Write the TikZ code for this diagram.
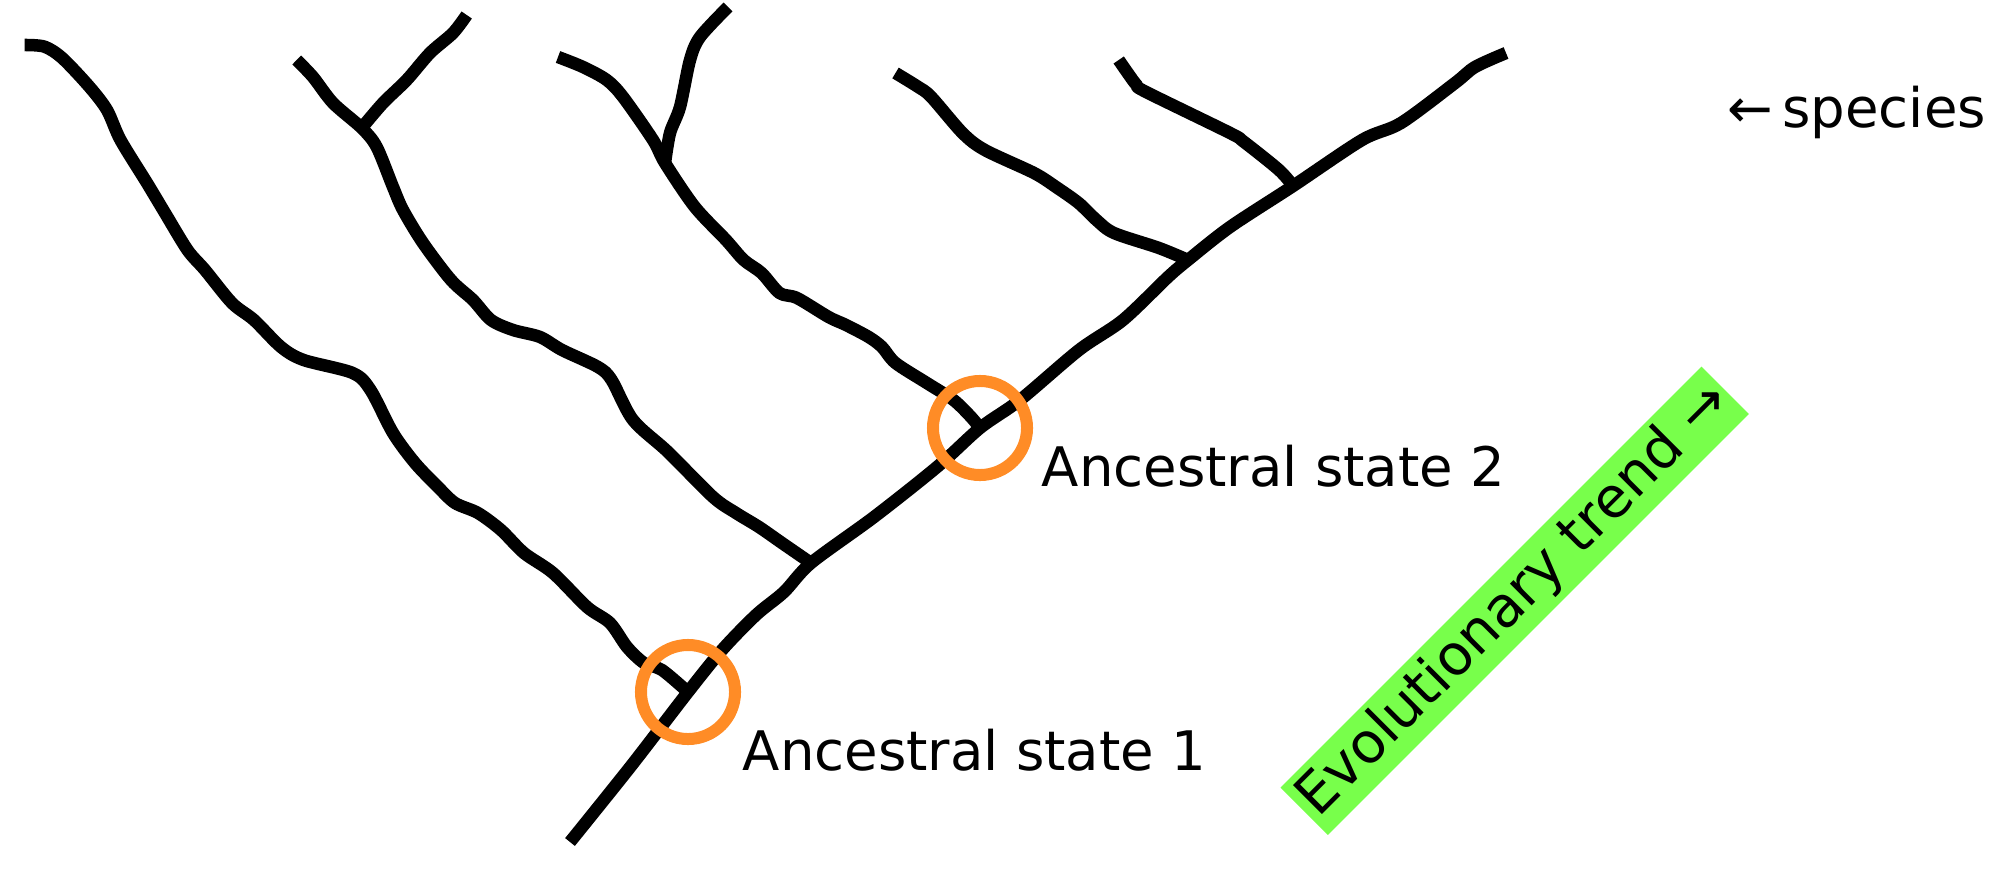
\documentclass[tikz,border=0pt]{standalone}
\usepackage{fontspec}
\setmainfont{DejaVu Sans}
\usetikzlibrary{positioning}
\definecolor{ringorange}{RGB}{255,140,38}
\definecolor{trendgreen}{RGB}{120,255,75}
\tikzset{
    branch/.style={line width=0.125cm, line join=round}, % the black lines of the tree
    ancestor/.style={circle, draw=ringorange, line width=0.12cm, minimum size=0.94cm, inner sep=0pt}, % orange rings
    statelabel/.style={anchor=base west, inner sep=0pt, font=\fontsize{15.5}{18}\selectfont},
    trend/.style={fill=trendgreen, rotate=45, minimum width=5.95cm, minimum height=0.67cm, inner sep=0pt, font=\fontsize{16}{18}\selectfont},
}

\begin{document}
\begin{tikzpicture}[x=0.01cm, y=-0.01cm]
    \useasboundingbox (0,0) rectangle (2016,876);
    % junctions and tips
    \coordinate (root) at (570,842);
    \coordinate (j1) at (688,692);
    \coordinate (jB) at (811,563);
    \coordinate (j2) at (980,428);
    \coordinate (jD) at (1188,260);
    \coordinate (jE) at (1293,186);
    \coordinate (top) at (1506,53);
    \coordinate (jB2) at (361.7,128);
    \coordinate (jC2) at (665,163);
    \coordinate (tA) at (24.6,45);
    \coordinate (tB) at (296.7,60);
    \coordinate (tB2) at (466.7,15);
    \coordinate (tC) at (558,57);
    \coordinate (tC2) at (728,7);
    \coordinate (tD) at (895.5,73);
    \coordinate (tE) at (1118.7,60);
    % trunk
    \draw[branch] plot[smooth] coordinates {(root) (631,766) (j1) (722,650) (756,615) (784,592) (jB) (874,517) (937,467) (j2) (1020,400) (1079,350) (1123,320) (1168,277) (jD) (1230,227) (jE) (1362,140) (1401,123) (1455,83) (1475,67) (top)};
    % branches
    \draw[branch] plot[smooth] coordinates {(tA) (44.6,46.7) (62.5,58.3) (89.3,86.7) (107,110) (120.5,140) (147,183) (165,213) (187.5,250) (205,270) (232,303) (254,320) (281,347) (303.6,360) (352.7,373) (370.5,390) (393,433) (415,463) (438,487) (455,503) (478,513) (501,530) (524,553) (553,573) (587,607) (610,623) (627,647) (644,663) (662,670) (j1)};
    \draw[branch] plot[smooth] coordinates {(tB) (313,77) (333,103) (jB2) (376.7,147) (393,187) (403,210) (423,243) (451,280) (473,300) (491,320) (513,330) (540,337) (562,350) (598,367) (611.6,380) (633,420) (668,452) (713,497) (736,513) (759,527) (782,543) (jB)};
    \draw[branch] plot[smooth] coordinates {(jB2) (383,103) (406.7,80) (430,53) (453,33) (tB2)};
    \draw[branch] plot[smooth] coordinates {(tC) (583,67) (606.7,80) (623,97) (653,140) (jC2) (694.6,206.7) (726,240) (743.7,260) (761.6,273) (779.5,293) (797,298) (828.6,317) (846,325) (868.7,337) (882,347) (895.5,363) (926.8,383) (953.5,400) (971,417) (j2)};
    \draw[branch] plot[smooth] coordinates {(jC2) (670,133) (680,107) (690,60) (700,37) (tC2)};
    \draw[branch] plot[smooth] coordinates {(tD) (917.8,86.7) (931,96.7) (962.5,133) (984.8,150) (1034,173) (1056,187) (1078.6,203) (1096.4,220) (1114,233) (1159,248) (jD)};
    \draw[branch] plot[smooth] coordinates {(tE) (1127.7,73) (1136.6,85) (1145.5,91.7) (1230,133) (1243.7,141.7) (1279,170) (jE)};
    % ancestral states
    \node[ancestor] (c1) at (j1) {};
    \node[ancestor] (c2) at (j2) {};
    \node[statelabel] (l1) at (742,770) {Ancestral state 1};
    \node[statelabel] (l2) at (1041,486) {Ancestral state 2};
    \node[statelabel] (species) at (1727,128) {←\,species};
    \node[trend] (trend) at (1514.7,600.75) {Evolutionary trend →};
\end{tikzpicture}
\end{document}
